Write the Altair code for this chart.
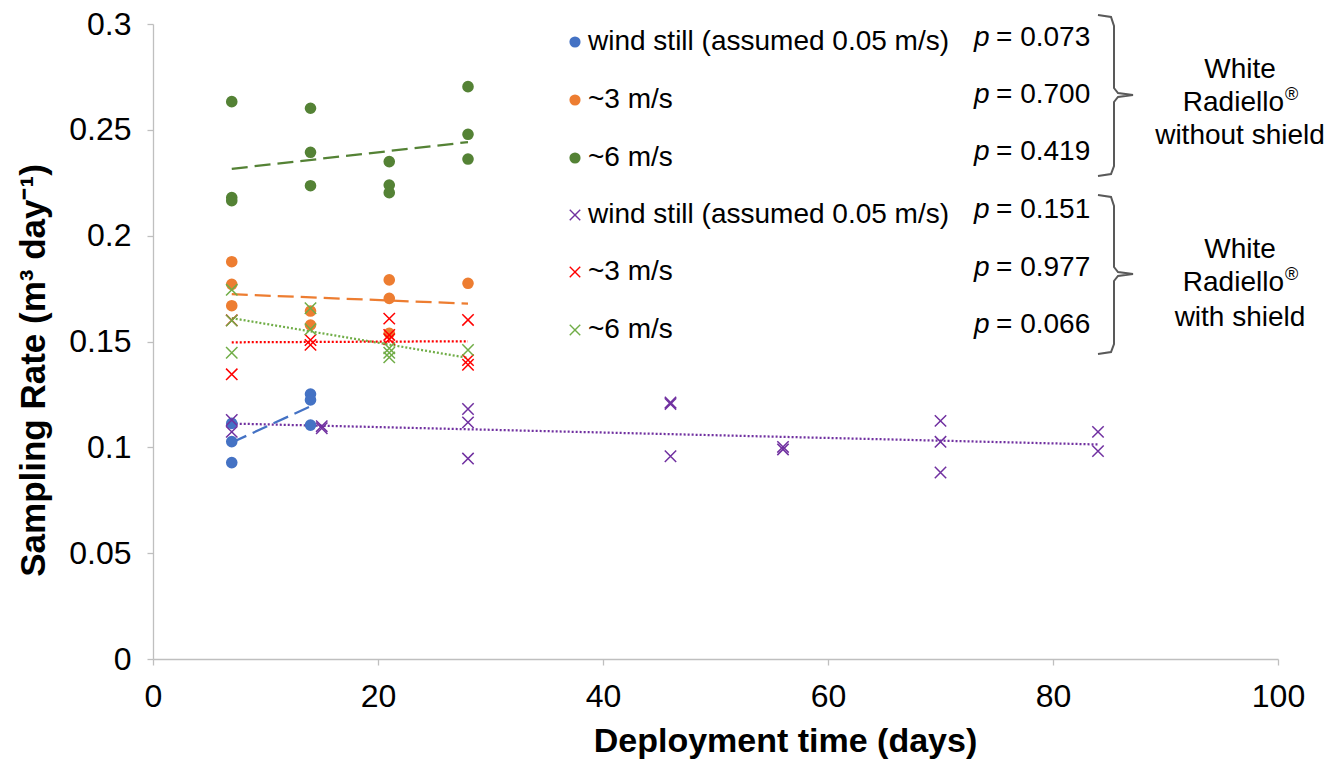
import altair as alt
import pandas as pd

FONT = "Liberation Sans"

# ---------------- data ----------------
series_order = ["ws_open", "m3_open", "m6_open", "ws_shield", "m3_shield", "m6_shield"]
series_colors = ["#4472C4", "#ED7D31", "#548235", "#7030A0", "#FF0000", "#70AD47"]
series_dash = [[16, 7], [16, 7], [16, 7], [2, 2], [2, 2], [2, 2]]
legend_labels = ["wind still (assumed 0.05 m/s)", "~3 m/s", "~6 m/s",
                 "wind still (assumed 0.05 m/s)", "~3 m/s", "~6 m/s"]
p_values = ["= 0.073", "= 0.700", "= 0.419", "= 0.151", "= 0.977", "= 0.066"]

ws_open_days = [7, 7, 7, 14, 14, 14]
ws_open_rate = [0.1113, 0.1027, 0.0928, 0.1252, 0.1224, 0.1105]

m3_open_days = [7, 7, 7, 14, 14, 21, 21, 21, 28]
m3_open_rate = [0.1877, 0.1770, 0.1669, 0.1644, 0.1578, 0.1791, 0.1704, 0.1539, 0.1775]

m6_open_days = [7, 7, 7, 14, 14, 14, 21, 21, 21, 28, 28, 28]
m6_open_rate = [0.2633, 0.2180, 0.2165, 0.2602, 0.2394, 0.2236,
                0.2350, 0.2239, 0.2203, 0.2704, 0.2479, 0.2362]

ws_shield_days = [7, 7, 15, 15, 28, 28, 28, 46, 46, 46, 56, 56, 70, 70, 70, 84, 84]
ws_shield_rate = [0.1129, 0.1073, 0.1100, 0.1090, 0.1181, 0.1118, 0.0947,
                  0.1212, 0.1205, 0.0958, 0.1002, 0.0990, 0.1125, 0.1026,
                  0.0881, 0.1073, 0.0982]

m3_shield_days = [7, 7, 14, 14, 21, 21, 21, 28, 28, 28]
m3_shield_rate = [0.1600, 0.1345, 0.1507, 0.1484, 0.1608, 0.1531, 0.1511,
                  0.1602, 0.1412, 0.1390]

m6_shield_days = [7, 7, 7, 14, 14, 21, 21, 21, 28]
m6_shield_rate = [0.1744, 0.1599, 0.1447, 0.1657, 0.1558, 0.1468, 0.1447,
                  0.1425, 0.1460]

x_ticks = [0, 20, 40, 60, 80, 100]
y_ticks = [0, 0.05, 0.1, 0.15, 0.2, 0.25, 0.3]

# ---------------- tables ----------------
rows = []
for s, d, r, m in [
    ("ws_open", ws_open_days, ws_open_rate, "circle"),
    ("m3_open", m3_open_days, m3_open_rate, "circle"),
    ("m6_open", m6_open_days, m6_open_rate, "circle"),
    ("ws_shield", ws_shield_days, ws_shield_rate, "cross"),
    ("m3_shield", m3_shield_days, m3_shield_rate, "cross"),
    ("m6_shield", m6_shield_days, m6_shield_rate, "cross"),
]:
    for dd, rr in zip(d, r):
        rows.append({"day": dd, "rate": rr, "series": s, "marker": m})
df = pd.DataFrame(rows)

# legend / annotation layout (pixels inside the plot area)
legend_y = [18, 76, 134, 191, 248, 306]
p_y = [14, 71, 128, 186, 244, 301]
legend_df = pd.DataFrame({
    "series": series_order,
    "label": legend_labels,
    "ly": legend_y,
    "py": p_y,
    "pv": p_values,
    "marker": ["circle"] * 3 + ["cross"] * 3,
})

# brace outlines
br_x = [945, 958, 961, 961, 965, 980, 965, 961, 961, 958, 945]
br1_y = [-9, -7, 2, 64, 69, 71, 73, 78, 142, 150, 152]
br2_y = [171, 173, 182, 243, 248, 250, 252, 257, 320, 328, 330]
brace_rows = []
for g, ys in [("a", br1_y), ("b", br2_y)]:
    for i, (bx, by) in enumerate(zip(br_x, ys)):
        brace_rows.append({"g": g, "o": i, "bx": bx, "by": by})
brace_df = pd.DataFrame(brace_rows)

group_df = pd.DataFrame({
    "t": ["White", "without shield", "White", "with shield"],
    "gx": [1087, 1087, 1087, 1087],
    "gy": [46, 112, 226, 294],
})
radiello_df = pd.DataFrame({"t": ["Radiello", "Radiello"], "gy": [79, 259]})

# ---------------- chart ----------------
color_scale = alt.Scale(domain=series_order, range=series_colors)

x_enc = alt.X("day:Q", scale=alt.Scale(domain=[0, 100], nice=False, zero=False),
              axis=alt.Axis(values=x_ticks, title="Deployment time (days)", labelFlush=False,
                            titleX=632, titleY=82, titleBaseline="middle",
                            titleAnchor="start", titleAlign="center"))
y_enc = alt.Y("rate:Q", scale=alt.Scale(domain=[0, 0.3], nice=False),
              axis=alt.Axis(values=y_ticks, format="~g", labelFlush=False,
                            title="Sampling Rate (m³ day⁻¹)",
                            titleX=-120, titleY=346, titleBaseline="middle",
                            titleAlign="center", titleAngle=-90, titleFontSize=35))

base = alt.Chart(df)

circles = base.transform_filter(alt.datum.marker == "circle").mark_point(
    shape="circle", filled=True, size=135, opacity=1
).encode(x=x_enc, y=y_enc, color=alt.Color("series:N", scale=color_scale, legend=None))

crosses = base.transform_filter(alt.datum.marker == "cross").mark_point(
    shape="M-1,-1L1,1M-1,1L1,-1", filled=False, size=130, strokeWidth=1.5, opacity=1
).encode(x="day:Q", y="rate:Q", color=alt.Color("series:N", scale=color_scale, legend=None))

trends = base.transform_regression(
    "day", "rate", groupby=["series"]
).mark_line(strokeWidth=2.25).encode(
    x="day:Q", y="rate:Q",
    color=alt.Color("series:N", scale=color_scale, legend=None),
    strokeDash=alt.StrokeDash("series:N", scale=alt.Scale(domain=series_order, range=series_dash),
                              legend=None),
)

leg = alt.Chart(legend_df)
leg_circles = leg.transform_filter(alt.datum.marker == "circle").mark_point(
    shape="circle", filled=True, size=125, opacity=1
).encode(x=alt.value(422), y=alt.Y("ly:Q", scale=None),
         color=alt.Color("series:N", scale=color_scale, legend=None))
leg_crosses = leg.transform_filter(alt.datum.marker == "cross").mark_point(
    shape="M-1,-1L1,1M-1,1L1,-1", filled=False, size=110, strokeWidth=1.4, opacity=1
).encode(x=alt.value(422), y=alt.Y("ly:Q", scale=None),
         color=alt.Color("series:N", scale=color_scale, legend=None))
leg_text = leg.mark_text(align="left", baseline="middle", font=FONT, fontSize=28,
                         color="#000000").encode(
    x=alt.value(435), y=alt.Y("ly:Q", scale=None), text="label:N")
p_letter = leg.mark_text(align="left", baseline="middle", font=FONT, fontSize=28,
                         fontStyle="italic", color="#000000", text="p").encode(
    x=alt.value(821), y=alt.Y("py:Q", scale=None))
p_text = leg.mark_text(align="left", baseline="middle", font=FONT, fontSize=28,
                       color="#000000").encode(
    x=alt.value(843), y=alt.Y("py:Q", scale=None), text="pv:N")

braces = alt.Chart(brace_df).mark_line(color="#595959", strokeWidth=2, clip=False).encode(
    x=alt.X("bx:Q", scale=None), y=alt.Y("by:Q", scale=None),
    detail="g:N", order="o:Q")

group_text = alt.Chart(group_df).mark_text(align="center", baseline="middle", font=FONT,
                                           fontSize=28, color="#000000").encode(
    x=alt.X("gx:Q", scale=None), y=alt.Y("gy:Q", scale=None), text="t:N")
radiello_text = alt.Chart(radiello_df).mark_text(align="right", baseline="middle", font=FONT,
                                                 fontSize=28, color="#000000").encode(
    x=alt.value(1131), y=alt.Y("gy:Q", scale=None), text="t:N")
reg_mark = alt.Chart(radiello_df).mark_text(align="left", baseline="middle", font=FONT,
                                            fontSize=18, color="#000000", text="®", dy=-8).encode(
    x=alt.value(1132), y=alt.Y("gy:Q", scale=None))

chart = alt.layer(
    trends, circles, crosses, leg_circles, leg_crosses, leg_text, p_letter, p_text,
    braces, group_text, radiello_text, reg_mark
).properties(
    width=1125, height=635,
    padding={"left": 153, "top": 24, "right": 65, "bottom": 100},
    autosize=alt.AutoSizeParams(type="none"),
).configure_view(stroke=None).configure_axis(
    grid=False, domainColor="#BFBFBF", domainWidth=1.3, tickColor="#BFBFBF", tickSize=6,
    tickWidth=1.3,
    labelFont=FONT, labelFontSize=32, labelColor="#000000", labelPadding=16,
    titleFont=FONT, titleFontSize=34, titleFontWeight="bold", titleColor="#000000",
)

chart.save("out.html", embed_options={"renderer": "svg", "actions": False})
